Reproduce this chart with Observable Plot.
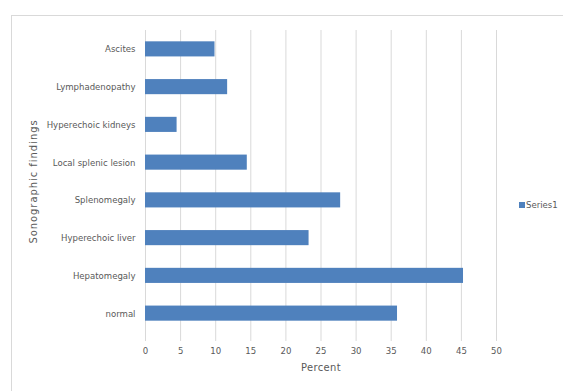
<!DOCTYPE html>
<html>
<head>
<meta charset="utf-8">
<script src="https://cdn.jsdelivr.net/npm/d3@7"></script>
<script src="https://cdn.jsdelivr.net/npm/@observablehq/plot@0.6"></script>
<style>
  html, body { margin: 0; padding: 0; background: #fff; }
  #wrap { position: relative; width: 563px; height: 391px; overflow: hidden; font-family: "Liberation Sans Narrow", "DejaVu Sans Condensed", "Open Sans", sans-serif; }
  #frame { position: absolute; left: 11px; top: 15px; width: 600px; height: 400px; border-top: 1px solid #d9d9d9; border-left: 1px solid #d9d9d9; }
  #legend { position: absolute; left: 519px; top: 199px; font-size: 9.5px; color: #595959; display: flex; align-items: center; }
  #legend span.sw { display: inline-block; width: 6px; height: 6px; background: #4f81bd; margin-right: 1px; }
  svg { position: absolute; left: 0; top: 0; }
</style>
</head>
<body>
<div id="wrap">
  <div id="frame"></div>
  <div id="legend"><span class="sw"></span><span id="legend-label"></span></div>
</div>
<script>
const categories = ["Ascites", "Lymphadenopathy", "Hyperechoic kidneys", "Local splenic lesion", "Splenomegaly", "Hyperechoic liver", "Hepatomegaly", "normal"];
const values = [9.9, 11.7, 4.5, 14.5, 27.8, 23.3, 45.3, 35.9];
const xTicks = [0, 5, 10, 15, 20, 25, 30, 35, 40, 45, 50];
const seriesName = "Series1";
const xTitle = "Percent";
const yTitle = "Sonographic findings";

const data = categories.map((c, i) => ({category: c, value: values[i]}));
const barColor = "#4f81bd";
const gridColor = "#d9d9d9";
const textColor = "#595959";

const chart = Plot.plot({
  width: 563,
  height: 391,
  marginLeft: 145,
  marginRight: 67,
  marginTop: 30,
  marginBottom: 59,
  style: {fontFamily: "'Liberation Sans Narrow', 'DejaVu Sans Condensed', 'Open Sans', sans-serif", fontSize: "9.5px", color: textColor, background: "transparent"},
  x: {domain: [0, 50]},
  y: {domain: categories, paddingInner: 0.6, paddingOuter: 0.3, round: false},
  marks: [
    Plot.gridX(xTicks, {stroke: gridColor, strokeOpacity: 1, strokeWidth: 1}),
    Plot.ruleX([0], {stroke: gridColor, strokeOpacity: 1}),
    Plot.barX(data, {y: "category", x: "value", fill: barColor}),
    Plot.axisX(xTicks, {tickSize: 9, tickPadding: 6, stroke: gridColor, fill: textColor, label: xTitle, labelAnchor: "center", labelArrow: "none", labelOffset: 38}),
    Plot.axisY({tickSize: 0, tickPadding: 10, fill: textColor, label: yTitle, labelAnchor: "center", labelArrow: "none", labelOffset: 116})
  ]
});
d3.select(chart).selectAll('g[aria-label="x-axis label"]').attr("font-size", "11px").attr("letter-spacing", "0.4px");
d3.select(chart).selectAll('g[aria-label="y-axis label"]').attr("font-size", "11px").attr("letter-spacing", "1px");
document.getElementById("wrap").appendChild(chart);
document.getElementById("legend-label").textContent = seriesName;
</script>
</body>
</html>
